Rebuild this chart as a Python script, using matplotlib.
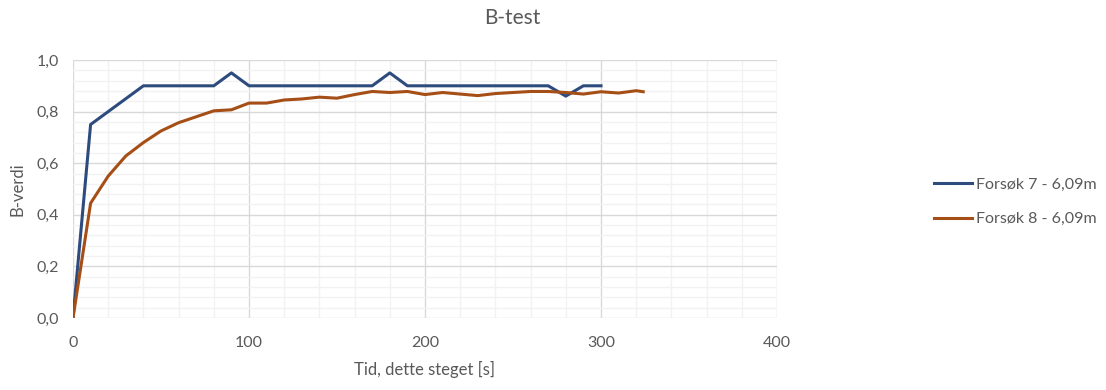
import matplotlib
matplotlib.use('Agg')
import matplotlib.pyplot as plt
from matplotlib.ticker import MultipleLocator, FuncFormatter

# B-value per 10 s step, two runs at 6,09 m
t7 = [0, 10, 20, 30, 40, 50, 60, 70, 80, 90, 100, 110, 120, 130, 140, 150,
      160, 170, 180, 190, 200, 210, 220, 230, 240, 250, 260, 270, 280, 290, 300]
b7 = [0.0, 0.75, 0.80, 0.85, 0.90, 0.90, 0.90, 0.90, 0.90, 0.95, 0.90, 0.90,
      0.90, 0.90, 0.90, 0.90, 0.90, 0.90, 0.95, 0.90, 0.90, 0.90, 0.90, 0.90,
      0.90, 0.90, 0.90, 0.90, 0.86, 0.90, 0.90]

t8 = [0, 10, 20, 30, 40, 50, 60, 70, 80, 90, 100, 110, 120, 130, 140, 150,
      160, 170, 180, 190, 200, 210, 220, 230, 240, 250, 260, 270, 280, 290,
      300, 310, 320, 324]
b8 = [0.0, 0.445, 0.55, 0.628, 0.68, 0.725, 0.757, 0.78, 0.803, 0.807, 0.833,
      0.833, 0.845, 0.849, 0.856, 0.852, 0.866, 0.878, 0.874, 0.878, 0.866,
      0.874, 0.868, 0.862, 0.870, 0.874, 0.878, 0.878, 0.874, 0.868, 0.877,
      0.872, 0.881, 0.877]

labels = ['Forsøk 7 - 6,09m', 'Forsøk 8 - 6,09m']
colors = ['#2E4B7E', '#A54E16']

plt.rcParams['font.family'] = ['Lato', 'DejaVu Sans']
txt = '#595959'

fig = plt.figure(figsize=(11.06, 3.90), dpi=100)
ax = fig.add_axes([73 / 1106, 1 - 318 / 390, (777 - 73) / 1106, (318 - 60) / 390])

ax.plot(t7, b7, color=colors[0], lw=2.2, label=labels[0], zorder=3)
ax.plot(t8, b8, color=colors[1], lw=2.2, label=labels[1], zorder=3)

ax.set_xlim(0, 400)
ax.set_ylim(0, 1.0)
ax.xaxis.set_major_locator(MultipleLocator(100))
ax.xaxis.set_minor_locator(MultipleLocator(20))
ax.yaxis.set_major_locator(MultipleLocator(0.2))
ax.yaxis.set_minor_locator(MultipleLocator(0.04))
ax.yaxis.set_major_formatter(FuncFormatter(lambda v, _: f'{v:.1f}'.replace('.', ',')))

ax.grid(which='major', color='#D9D9D9', lw=1.0, zorder=1)
ax.grid(which='minor', color='#F2F2F2', lw=1.0, zorder=0)
for s in ax.spines.values():
    s.set_visible(False)
ax.tick_params(which='both', length=0, labelsize=11.5, colors=txt)
ax.tick_params(axis='x', pad=13)
ax.tick_params(axis='y', pad=10)

ax.set_xlabel('Tid, dette steget [s]', fontsize=12, color=txt, labelpad=8)
ax.set_ylabel('B-verdi', fontsize=12, color=txt, labelpad=8)
fig.text(512 / 1106, 1 - 18 / 390, 'B-test', ha='center', va='center',
         fontsize=15, color=txt)

fig.legend(loc='center left', bbox_to_anchor=(934 / 1106, 1 - 202 / 390),
           frameon=False, fontsize=11.5, labelcolor=txt, handlelength=2.4,
           handletextpad=0.2, labelspacing=1.25, borderpad=0, borderaxespad=0)

fig.savefig('out.png', dpi=100)
